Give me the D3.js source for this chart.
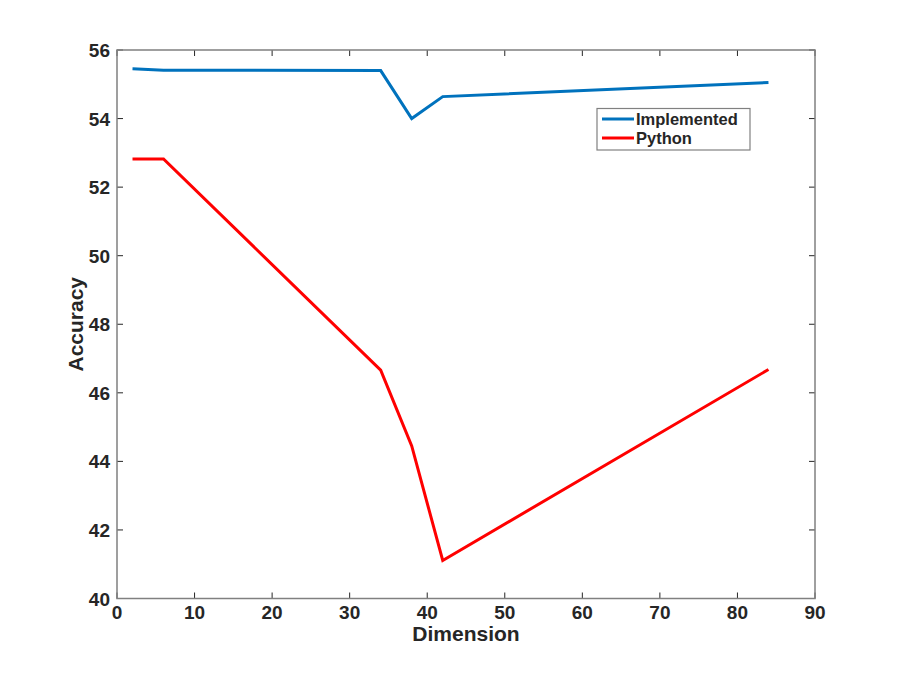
<!DOCTYPE html>
<html>
<head>
<meta charset="utf-8">
<script src="https://cdn.jsdelivr.net/npm/d3@7"></script>
<style>
  body { margin: 0; background: #fff; }
  text { font-family: "Liberation Sans", Arial, sans-serif; font-weight: bold; fill: #262626; }
</style>
</head>
<body>
<svg width="900" height="673"></svg>
<script>
const dims = [2, 6, 34, 38, 42, 84];
const implemented = [55.45, 55.41, 55.40, 54.00, 54.64, 55.05];
const python = [52.82, 52.82, 46.66, 44.45, 41.11, 46.68];
const xTicks = [0, 10, 20, 30, 40, 50, 60, 70, 80, 90];
const yTicks = [40, 42, 44, 46, 48, 50, 52, 54, 56];

const plotL = 117, plotR = 815, plotT = 50, plotB = 598.5;

const svg = d3.select('svg');
const x = d3.scaleLinear().domain([0, 90]).range([plotL, plotR]);
const y = d3.scaleLinear().domain([40, 56]).range([plotB, plotT]);

// ticks inside the box on all four sides
const g = svg.append('g');
g.selectAll('.xt').data(xTicks).enter().append('path')
  .attr('d', d => `M${x(d)},${plotB}v-6M${x(d)},${plotT}v6`)
  .attr('stroke', '#262626').attr('stroke-width', 1);
g.selectAll('.yt').data(yTicks).enter().append('path')
  .attr('d', d => `M${plotL},${y(d)}h6M${plotR},${y(d)}h-6`)
  .attr('stroke', '#262626').attr('stroke-width', 1);

svg.append('rect')
  .attr('x', plotL).attr('y', plotT)
  .attr('width', plotR - plotL).attr('height', plotB - plotT)
  .attr('fill', 'none').attr('stroke', '#808080').attr('stroke-width', 1.5);

svg.selectAll('.xl').data(xTicks).enter().append('text')
  .attr('x', d => x(d)).attr('y', 619)
  .attr('text-anchor', 'middle').style('font-size', '19px')
  .text(d => d);
svg.selectAll('.yl').data(yTicks).enter().append('text')
  .attr('x', 110).attr('y', d => y(d) + 7)
  .attr('text-anchor', 'end').style('font-size', '19px')
  .text(d => d);

svg.append('text').attr('x', x(45)).attr('y', 641)
  .attr('text-anchor', 'middle').style('font-size', '21px').text('Dimension');
svg.append('text').attr('transform', `translate(83,${(plotT + plotB) / 2}) rotate(-90)`)
  .attr('text-anchor', 'middle').style('font-size', '21px').text('Accuracy');

const line = d3.line().x((d, i) => x(dims[i])).y(d => y(d));
const series = [
  { name: 'Implemented', values: implemented, color: '#0072BD' },
  { name: 'Python', values: python, color: '#FF0000' }
];
svg.selectAll('.series').data(series).enter().append('path')
  .attr('d', d => line(d.values))
  .attr('fill', 'none').attr('stroke', d => d.color)
  .attr('stroke-width', 3).attr('stroke-linejoin', 'miter');

// legend
const lg = svg.append('g');
lg.append('rect').attr('x', 597).attr('y', 108.5).attr('width', 153).attr('height', 41.5)
  .attr('fill', '#fff').attr('stroke', '#808080').attr('stroke-width', 1.2);
const item = lg.selectAll('.item').data(series).enter().append('g')
  .attr('transform', (d, i) => `translate(0,${119 + i * 19})`);
item.append('line').attr('x1', 602).attr('x2', 634)
  .attr('stroke', d => d.color).attr('stroke-width', 3);
item.append('text').attr('x', 636).attr('y', 6)
  .style('font-size', '16.5px').text(d => d.name);
</script>
</body>
</html>
